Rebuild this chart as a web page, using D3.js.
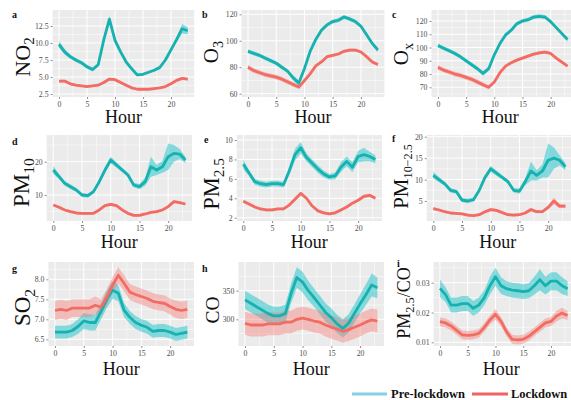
<!DOCTYPE html>
<html><head><meta charset="utf-8">
<script src="https://cdn.jsdelivr.net/npm/d3@7"></script>
<style>body{margin:0;background:#fff}svg{display:block}</style>
</head><body><svg id="c" width="571" height="400"></svg>
<script>
const hours = d3.range(24);
const xTicks = [0, 5, 10, 15, 20];
const seriesNames = ["Pre-lockdown", "Lockdown"];

// a: NO2
const no2Pre = [9.8, 8.7, 8.0, 7.5, 7.1, 6.5, 6.1, 6.8, 10.5, 13.5, 10.4, 8.7, 7.2, 6.2, 5.3, 5.4, 5.7, 6.0, 6.4, 7.5, 9.0, 10.5, 12.1, 11.8];
const no2PreCI = [0.5, 0.4, 0.3, 0.3, 0.3, 0.3, 0.3, 0.3, 0.4, 0.5, 0.4, 0.3, 0.3, 0.3, 0.2, 0.2, 0.2, 0.2, 0.3, 0.3, 0.3, 0.4, 0.7, 0.5];
const no2Lock = [4.4, 4.4, 4.0, 3.8, 3.7, 3.6, 3.7, 3.8, 4.2, 4.7, 4.6, 4.2, 3.8, 3.4, 3.2, 3.2, 3.2, 3.3, 3.4, 3.6, 4.0, 4.5, 4.8, 4.7];
const no2LockCI = [0.2, 0.2, 0.2, 0.15, 0.15, 0.15, 0.15, 0.15, 0.2, 0.2, 0.2, 0.2, 0.15, 0.15, 0.15, 0.15, 0.15, 0.15, 0.15, 0.15, 0.2, 0.2, 0.2, 0.2];
// b: O3
const o3Pre = [92, 90.5, 89, 87, 85, 83, 80, 77, 72, 68, 79, 92, 101, 108, 112, 114.5, 115.5, 118, 116.5, 114.5, 111, 104.5, 98, 93];
const o3PreCI = [1.5, 1.5, 1.5, 1.5, 1.5, 1.5, 1.5, 1.5, 2, 2, 1.5, 1.5, 1.5, 1.5, 1.5, 1.5, 1.5, 1.5, 1.5, 1.5, 1.5, 1.5, 1.5, 1.5];
const o3Lock = [80, 77.5, 76, 74.5, 73.5, 72.5, 71, 69, 67, 65, 70, 75, 81, 84, 88, 89, 90, 92, 93, 93, 91.5, 88, 84, 82];
const o3LockCI = [1.8, 1.8, 1.8, 1.8, 1.8, 1.8, 1.8, 1.8, 1.8, 1.5, 1.2, 1.2, 1.2, 1.2, 1.2, 1.2, 1.2, 1.2, 1.2, 1.2, 1.2, 1.2, 1.2, 1.2];
// c: Ox
const oxPre = [101.5, 99.5, 97.5, 95.5, 93, 90, 87, 84, 80.5, 84, 94.5, 103, 109.5, 113, 118, 120, 121, 123, 123.5, 123, 119.5, 115, 110.5, 106];
const oxPreCI = [1.5, 1.5, 1.5, 1.5, 1.5, 1.5, 1.5, 1.5, 1.8, 1.8, 1.5, 1.5, 1.5, 1.5, 1.5, 1.5, 1.5, 1.5, 1.5, 1.5, 1.5, 1.5, 1.5, 1.5];
const oxLock = [85, 83, 81.5, 80, 79, 77.5, 76, 74, 72, 70, 74, 81, 86, 88.5, 90.5, 92, 93.5, 95, 96, 96.5, 95.5, 92, 89, 86];
const oxLockCI = [1.8, 1.8, 1.8, 1.8, 1.8, 1.8, 1.8, 1.8, 1.8, 1.5, 1.2, 1.2, 1.2, 1.2, 1.2, 1.2, 1.2, 1.2, 1.2, 1.2, 1.2, 1.2, 1.2, 1.2];
// d: PM10
const pm10Pre = [17.5, 15.5, 13.5, 12.5, 11.5, 10, 9.8, 11, 14, 17.5, 20.5, 19, 17.5, 16, 13, 12.5, 14, 18.5, 17.5, 18.5, 21.5, 22.5, 22.3, 20.5];
const pm10PreCI = [1.2, 0.8, 0.7, 0.7, 0.6, 0.6, 0.6, 0.6, 0.7, 0.9, 1.0, 0.8, 0.7, 0.7, 0.7, 0.8, 1.2, 3.0, 1.5, 1.8, 4.0, 2.5, 1.5, 1.0];
const pm10Lock = [7, 6.3, 5.5, 5, 4.6, 4.5, 4.5, 4.5, 5.5, 6.8, 7.2, 6.8, 5.5, 4.5, 3.9, 3.9, 4.3, 4.8, 5, 5.5, 6.5, 8.0, 7.7, 7.3];
const pm10LockCI = [0.4, 0.4, 0.4, 0.4, 0.4, 0.4, 0.4, 0.4, 0.4, 0.4, 0.5, 0.4, 0.4, 0.4, 0.4, 0.4, 0.4, 0.4, 0.4, 0.4, 0.4, 0.5, 0.4, 0.4];
// e: PM2.5
const pm25Pre = [7.5, 6.6, 5.7, 5.5, 5.4, 5.5, 5.5, 5.4, 6.8, 8.5, 9.2, 8.2, 7.6, 7.0, 6.5, 6.2, 6.3, 7.2, 7.8, 7.2, 8.3, 8.5, 8.3, 8.0];
const pm25PreCI = [0.5, 0.3, 0.3, 0.3, 0.3, 0.3, 0.3, 0.3, 0.4, 0.6, 0.6, 0.4, 0.4, 0.4, 0.35, 0.3, 0.35, 0.5, 0.5, 0.5, 0.6, 0.7, 0.5, 0.4];
const pm25Lock = [3.7, 3.4, 3.1, 2.9, 2.8, 2.8, 2.9, 2.9, 3.3, 3.9, 4.5, 4.0, 3.2, 2.7, 2.5, 2.4, 2.5, 2.8, 3.1, 3.5, 3.8, 4.2, 4.3, 4.0];
const pm25LockCI = [0.15, 0.15, 0.15, 0.15, 0.15, 0.15, 0.15, 0.15, 0.15, 0.2, 0.2, 0.15, 0.15, 0.15, 0.15, 0.15, 0.15, 0.15, 0.15, 0.15, 0.15, 0.2, 0.2, 0.15];
// f: PM10-2.5
const pmcPre = [11, 10, 9, 7.5, 7.2, 5.2, 5, 5.3, 7.5, 10.5, 12.5, 11.5, 10.5, 9.5, 7.5, 7.3, 9.5, 12, 11, 12, 14.5, 15, 14.5, 13];
const pmcPreCI = [0.8, 0.6, 0.5, 0.5, 0.5, 0.5, 0.5, 0.5, 0.5, 0.6, 0.7, 0.6, 0.5, 0.5, 0.5, 0.6, 0.8, 2.2, 1.2, 1.5, 4.0, 2.5, 1.2, 0.8];
const pmcLock = [3.2, 2.9, 2.5, 2.2, 2.1, 2.0, 1.7, 1.6, 1.8, 2.5, 3.0, 2.8, 2.3, 1.8, 1.7, 1.8, 2.2, 3.0, 2.5, 2.5, 3.5, 5.0, 3.8, 3.8];
const pmcLockCI = [0.35, 0.35, 0.3, 0.3, 0.3, 0.3, 0.3, 0.3, 0.3, 0.35, 0.4, 0.35, 0.3, 0.3, 0.3, 0.3, 0.35, 0.45, 0.35, 0.35, 0.45, 0.8, 0.5, 0.45];
// g: SO2
const so2Pre = [6.68, 6.68, 6.68, 6.72, 6.82, 6.96, 6.92, 6.92, 7.2, 7.5, 7.73, 7.65, 7.23, 7.05, 6.92, 6.85, 6.8, 6.7, 6.72, 6.72, 6.68, 6.62, 6.65, 6.68];
const so2PreCI = [0.16, 0.16, 0.16, 0.16, 0.18, 0.2, 0.2, 0.2, 0.2, 0.22, 0.22, 0.2, 0.18, 0.16, 0.16, 0.16, 0.16, 0.16, 0.16, 0.16, 0.16, 0.16, 0.16, 0.16];
const so2Lock = [7.22, 7.25, 7.22, 7.28, 7.28, 7.28, 7.28, 7.35, 7.3, 7.55, 7.85, 8.1, 7.9, 7.68, 7.62, 7.57, 7.52, 7.45, 7.42, 7.4, 7.32, 7.25, 7.22, 7.25];
const so2LockCI = [0.24, 0.24, 0.24, 0.22, 0.22, 0.22, 0.22, 0.22, 0.2, 0.2, 0.2, 0.2, 0.2, 0.2, 0.2, 0.2, 0.2, 0.2, 0.2, 0.2, 0.2, 0.22, 0.22, 0.22];
// h: CO
const coPre = [334, 328, 322, 316, 310, 306, 306, 310, 345, 373, 365, 350, 338, 325, 312, 303, 292, 284, 293, 310, 327, 343, 360, 355];
const coPreCI = [16, 16, 16, 16, 16, 16, 16, 16, 17, 18, 18, 17, 16, 16, 16, 16, 16, 16, 16, 16, 17, 18, 20, 18];
const coLock = [293, 290, 290, 290, 292, 292, 292, 295, 295, 300, 302, 300, 297, 295, 290, 286, 283, 279, 282, 286, 290, 295, 299, 297];
const coLockCI = [20, 20, 20, 20, 20, 20, 20, 20, 20, 20, 20, 20, 20, 20, 20, 20, 20, 20, 20, 20, 20, 20, 20, 20];
// i: PM2.5/CO
const ratioPre = [0.0281, 0.026, 0.0225, 0.0225, 0.023, 0.023, 0.0214, 0.0225, 0.025, 0.029, 0.032, 0.029, 0.028, 0.0275, 0.0273, 0.027, 0.0273, 0.029, 0.031, 0.029, 0.0305, 0.0305, 0.029, 0.028];
const ratioPreCI = [0.003, 0.0025, 0.0025, 0.0025, 0.0025, 0.0025, 0.0025, 0.0025, 0.0025, 0.003, 0.003, 0.0028, 0.0025, 0.0025, 0.0025, 0.0025, 0.0025, 0.003, 0.0035, 0.003, 0.003, 0.003, 0.0028, 0.0025];
const ratioLock = [0.0169, 0.0165, 0.0155, 0.014, 0.0125, 0.0123, 0.0125, 0.013, 0.015, 0.0175, 0.0194, 0.017, 0.0135, 0.011, 0.0108, 0.011, 0.012, 0.0135, 0.015, 0.0165, 0.017, 0.0188, 0.0198, 0.019];
const ratioLockCI = [0.0015, 0.0015, 0.0015, 0.0015, 0.0015, 0.0015, 0.0015, 0.0015, 0.0015, 0.0015, 0.0018, 0.0015, 0.0015, 0.0015, 0.0015, 0.0015, 0.0015, 0.0015, 0.0015, 0.0015, 0.0015, 0.0018, 0.0018, 0.0015];

// tick labels
const yTicksA = [2.5, 5.0, 7.5, 10.0, 12.5];
const yTicksB = [60, 80, 100, 120];
const yTicksC = [70, 80, 90, 100, 110, 120];
const yTicksD = [10, 20];
const yTicksE = [2, 4, 6, 8, 10];
const yTicksF = [5, 10, 15, 20];
const yTicksG = [6.5, 7.0, 7.5, 8.0];
const yTicksH = [300, 350];
const yTicksI = [0.01, 0.02, 0.03];

const preLine = "#17b1af", preFill = "#00BFC4";
const lockLine = "#f36c64", lockFill = "#F8766D";

const svg = d3.select("#c");

// layout: rect [xLeft, xRight, yTop, yBottom], y anchors [[v,px],[v,px]]
const panels = [
  {id:"a", lab:[["NO",0],["2",1]], pre:no2Pre, preCI:no2PreCI, lock:no2Lock, lockCI:no2LockCI, ticks:yTicksA, fmt:".1f",
   rect:[52.6,194.2,10,97], anch:[[12.5,26],[2.5,94]], letter:[12,18], lab2:[22,57,22,0.68], hourDy:26},
  {id:"b", lab:[["O",0],["3",1]], pre:o3Pre, preCI:o3PreCI, lock:o3Lock, lockCI:o3LockCI, ticks:yTicksB, fmt:"d",
   rect:[241.5,384.4,10,97], anch:[[120,14.3],[60,93.7]], letter:[202,18], lab2:[211,52,21,0.68], hourDy:26},
  {id:"c", lab:[["O",0],["x",1]], pre:oxPre, preCI:oxPreCI, lock:oxLock, lockCI:oxLockCI, ticks:yTicksC, fmt:"d",
   rect:[431.5,574,10,97], anch:[[120,21],[70,87.3]], letter:[392,18], lab2:[401,54,21,0.68], hourDy:26},
  {id:"d", lab:[["PM",0],["10",1]], pre:pm10Pre, preCI:pm10PreCI, lock:pm10Lock, lockCI:pm10LockCI, ticks:yTicksD, fmt:"d",
   rect:[46.7,192,135,221], anch:[[20,161.7],[10,195]], letter:[12,145], lab2:[21,182.5,23,0.68], hourDy:27},
  {id:"e", lab:[["PM",0],["2.5",1]], pre:pm25Pre, preCI:pm25PreCI, lock:pm25Lock, lockCI:pm25LockCI, ticks:yTicksE, fmt:"d",
   rect:[236.7,382,135,221], anch:[[10,140],[2,217.7]], letter:[204,143], lab2:[211,184,22.5,0.68], hourDy:27},
  {id:"f", lab:[["PM",0],["10\u22122.5",1]], pre:pmcPre, preCI:pmcPreCI, lock:pmcLock, lockCI:pmcLockCI, ticks:yTicksF, fmt:"d",
   rect:[426.7,572,135,221], anch:[[20,136.7],[5,201]], letter:[392,142], lab2:[401,176.5,21,0.58], hourDy:27},
  {id:"g", lab:[["SO",0],["2",1]], pre:so2Pre, preCI:so2PreCI, lock:so2Lock, lockCI:so2LockCI, ticks:yTicksG, fmt:".1f",
   rect:[48.4,194,262,346], anch:[[8.0,279.3],[6.5,339.3]], letter:[12,272], lab2:[22,307.5,23,0.68], hourDy:29},
  {id:"h", lab:[["CO",0]], pre:coPre, preCI:coPreCI, lock:coLock, lockCI:coLockCI, ticks:yTicksH, fmt:"d",
   rect:[238.4,384,262,346], anch:[[350,290.7],[300,319.3]], letter:[202,272], lab2:[212,310,19.5,0.68], hourDy:29},
  {id:"i", lab:[["PM",0],["2.5",1],["/CO",0]], pre:ratioPre, preCI:ratioPreCI, lock:ratioLock, lockCI:ratioLockCI, ticks:yTicksI, fmt:".2f",
   rect:[433.6,574,262,346], anch:[[0.03,282.7],[0.01,342.3]], letter:[397,267], lab2:[404,303,18,0.68], hourDy:29}
];

const serif = "'Liberation Serif','Times New Roman',serif";

function addParts(text, parts, size, subScale) {
  let shift = 0;
  parts.forEach(([t, sub]) => {
    const target = sub ? size * 0.32 : 0;
    const ts = text.append("tspan").text(t).attr("dy", target - shift);
    if (sub) ts.attr("font-size", size * subScale);
    shift = target;
  });
}

panels.forEach(p => {
  const [x0, x1, y0, y1] = p.rect;
  const x = d3.scaleLinear().domain([-1.15, 24.15]).range([x0, x1]);
  const y = d3.scaleLinear().domain([p.anch[0][0], p.anch[1][0]]).range([p.anch[0][1], p.anch[1][1]]);
  const g = svg.append("g");
  const clipId = "clip-" + p.id;
  svg.append("clipPath").attr("id", clipId).append("rect")
    .attr("x", x0).attr("y", y0).attr("width", x1 - x0).attr("height", y1 - y0);
  g.append("rect").attr("x", x0).attr("y", y0).attr("width", x1 - x0).attr("height", y1 - y0).attr("fill", "#EBEBEB");
  const grid = g.append("g").attr("clip-path", `url(#${clipId})`);
  const xMinor = [-2.5, 2.5, 7.5, 12.5, 17.5, 22.5];
  const step = p.ticks[1] - p.ticks[0];
  const yMinor = [p.ticks[0] - step / 2].concat(p.ticks.map(v => v + step / 2));
  grid.selectAll(".xm").data(xMinor).join("line")
    .attr("x1", d => x(d)).attr("x2", d => x(d)).attr("y1", y0).attr("y2", y1)
    .attr("stroke", "#fff").attr("stroke-width", 0.5);
  grid.selectAll(".ym").data(yMinor).join("line")
    .attr("y1", d => y(d)).attr("y2", d => y(d)).attr("x1", x0).attr("x2", x1)
    .attr("stroke", "#fff").attr("stroke-width", 0.5);
  grid.selectAll(".xM").data(xTicks).join("line")
    .attr("x1", d => x(d)).attr("x2", d => x(d)).attr("y1", y0).attr("y2", y1)
    .attr("stroke", "#fff").attr("stroke-width", 1);
  grid.selectAll(".yM").data(p.ticks).join("line")
    .attr("y1", d => y(d)).attr("y2", d => y(d)).attr("x1", x0).attr("x2", x1)
    .attr("stroke", "#fff").attr("stroke-width", 1);

  const area = (m, ci) => d3.area().x((d, i) => x(hours[i])).y0((d, i) => y(m[i] - ci[i])).y1((d, i) => y(m[i] + ci[i]))(m);
  const line = m => d3.line().x((d, i) => x(hours[i])).y(d => y(d))(m);
  grid.append("path").attr("d", area(p.pre, p.preCI)).attr("fill", preFill).attr("opacity", 0.45);
  grid.append("path").attr("d", area(p.lock, p.lockCI)).attr("fill", lockFill).attr("opacity", 0.4);
  grid.append("path").attr("d", line(p.pre)).attr("fill", "none").attr("stroke", preLine).attr("stroke-width", 2.8).attr("stroke-linejoin", "round");
  grid.append("path").attr("d", line(p.lock)).attr("fill", "none").attr("stroke", lockLine).attr("stroke-width", 2.8).attr("stroke-linejoin", "round");

  const ax = g.append("g").attr("transform", `translate(0,${y1})`)
    .call(d3.axisBottom(x).tickValues(xTicks).tickSize(2).tickPadding(2).tickFormat(d3.format("d")));
  const ay = g.append("g").attr("transform", `translate(${x0},0)`)
    .call(d3.axisLeft(y).tickValues(p.ticks).tickSize(2).tickPadding(2).tickFormat(d3.format(p.fmt)));
  [ax, ay].forEach(a => {
    a.select(".domain").remove();
    a.selectAll(".tick line").attr("stroke", "#444").attr("stroke-width", 0.6);
    a.selectAll(".tick text").attr("fill", "#4D4D4D").attr("font-family", serif).attr("font-size", 7.8);
  });

  g.append("text").attr("x", (x0 + Math.min(x1, 571)) / 2 + (x1 > 571 ? -1 : 0))
    .attr("y", y1 + p.hourDy).attr("text-anchor", "middle")
    .attr("font-family", serif).attr("font-size", 18).attr("fill", "#111").text("Hour");
  const [lx, ly, ls, sub] = p.lab2;
  const yt = g.append("text").attr("transform", `translate(${lx},${ly}) rotate(-90)`)
    .attr("text-anchor", "middle").attr("dominant-baseline", "central")
    .attr("font-family", serif).attr("font-size", ls).attr("fill", "#111");
  addParts(yt, p.lab, ls, sub);
  g.append("text").attr("x", p.letter[0]).attr("y", p.letter[1]).attr("font-family", serif)
    .attr("font-weight", "bold").attr("font-size", 10).attr("fill", "#111").text(p.id);
});

// legend
const leg = svg.append("g");
const legItems = [
  {name: seriesNames[0], color: "#86d0e3", x1: 352, x2: 387, tx: 391},
  {name: seriesNames[1], color: "#ee6464", x1: 472, x2: 508, tx: 511}
];
legItems.forEach(it => {
  leg.append("line").attr("x1", it.x1).attr("x2", it.x2).attr("y1", 394).attr("y2", 394)
    .attr("stroke", it.color).attr("stroke-width", 3);
  leg.append("text").attr("x", it.tx).attr("y", 398).attr("font-family", serif).attr("font-weight", "bold")
    .attr("font-size", 12.5).attr("fill", "#111").text(it.name);
});
</script>
</body></html>
